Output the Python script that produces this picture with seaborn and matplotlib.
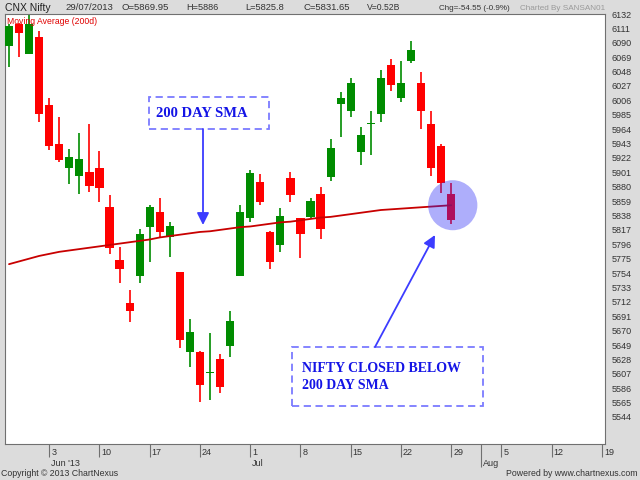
import matplotlib
matplotlib.use("Agg")
import matplotlib.pyplot as plt
import matplotlib.transforms as mtransforms
from matplotlib.patches import Ellipse, Rectangle, FancyArrowPatch
import seaborn as sns
import pandas as pd
import numpy as np

# ---------------- data ----------------
dates = pd.bdate_range("2013-05-28", "2013-07-29")          # trading days shown
axis_days = pd.bdate_range("2013-05-28", "2013-08-19")      # x axis extent

opens = [6086, 6117, 6073, 6099, 5999, 5942, 5907, 5895, 5901, 5908,
         5850, 5773, 5710, 5749, 5821, 5843, 5806, 5755, 5639, 5639,
         5608, 5628, 5647, 5749, 5834, 5887, 5814, 5795, 5892, 5834,
         5836, 5870, 5894, 6000, 5990, 5930, 5971, 5986, 6058, 6010,
         6064, 6032, 5971, 5939, 5869.95]
highs = [6118, 6119, 6130, 6107, 6010, 5981, 5935, 5958, 5972, 5932,
         5868, 5792, 5729, 5819, 5854, 5863, 5828, 5755, 5687, 5640,
         5666, 5636, 5699, 5853, 5904, 5898, 5815, 5849, 5901, 5834,
         5864, 5879, 5949, 6018, 6038, 5967, 5990, 6051, 6067, 6063,
         6093, 6047, 5990, 5943, 5886]
lows = [6054, 6069, 6073, 5975, 5933, 5916, 5884, 5869, 5872, 5857,
        5782, 5739, 5682, 5739, 5770, 5806, 5777, 5645, 5617, 5566,
        5569, 5579, 5631, 5749, 5828, 5853, 5760, 5785, 5857, 5776,
        5834, 5803, 5888, 5952, 5981, 5911, 5927, 5974, 6019, 6003,
        6060, 5964, 5895, 5871, 5825.8]
closes = [6115, 6104, 6117, 5986, 5939, 5919, 5924, 5921, 5881, 5878,
          5790, 5760, 5698, 5811, 5850, 5814, 5822, 5656, 5668, 5591,
          5610, 5588, 5684, 5843, 5900, 5857, 5770, 5837, 5868, 5811,
          5859, 5818, 5936, 6010, 6031, 5955, 5973, 6038, 6029, 6032,
          6079, 5990, 5908, 5886, 5831.65]
ma200 = [5767, 5771, 5775, 5779, 5782, 5785, 5787, 5789, 5791, 5793,
         5795, 5797, 5799, 5801, 5803, 5806, 5808, 5810, 5812, 5814,
         5815, 5817, 5819, 5821, 5822, 5824, 5826, 5828, 5829, 5831,
         5833, 5835, 5836, 5838, 5840, 5842, 5844, 5846, 5847, 5848,
         5849, 5850, 5851, 5852, 5853]

y_tick_values = [5544, 5565, 5586, 5607, 5628, 5649, 5670, 5691, 5712, 5733,
                 5754, 5775, 5796, 5817, 5838, 5859, 5880, 5901, 5922, 5943,
                 5964, 5985, 6006, 6027, 6048, 6069, 6090, 6111, 6132]
month_labels = ["Jun '13", "Jul", "Aug"]

header_items = [("29/07/2013", 65, 6.8), ("O=5869.95", 121, 6.8), ("H=5886", 186, 6.6),
                ("L=5825.8", 245, 6.7), ("C=5831.65", 304, 6.8), ("V=0.52B", 367, 6.2),
                ("Chg=-54.55 (-0.9%)", 439, 5.8)]

# ---------------- style ----------------
sns.set_style("white")
plt.rcParams["font.family"] = ["Liberation Sans", "DejaVu Sans"]

W, H = 640, 480
def fx(x):
    return x / W
def fy(y):
    return 1 - y / H

fig = plt.figure(figsize=(6.4, 4.8), dpi=100, facecolor="#dcdcdc")
ax = fig.add_axes([fx(5), fy(444), fx(605) - fx(5), fy(14) - fy(444)])
ax.set_facecolor("white")

df = pd.DataFrame({"i": np.arange(len(dates)), "open": opens, "high": highs,
                   "low": lows, "close": closes, "ma": ma200})
up = df["close"] >= df["open"]
colors = np.where(up, "#008c00", "#ff0000")

# wicks
ax.vlines(df["i"], df["low"], df["high"], colors=colors, lw=1.2, zorder=2)
# bodies
body_bottom = np.minimum(df["open"], df["close"])
body_h = np.maximum((df["close"] - df["open"]).abs(), 1.6)
ax.bar(df["i"], body_h, bottom=body_bottom, width=0.82, color=colors,
       linewidth=0, zorder=3)

# moving average
sns.lineplot(data=df, x="i", y="ma", ax=ax, color="#c80000", lw=1.3, zorder=4)

# highlight circle on last candle
ax.add_patch(Ellipse((df["i"].iloc[-1] + 0.15, df["ma"].iloc[-1]), width=4.9, height=73,
                     facecolor=(42 / 255, 42 / 255, 245 / 255, 0.38),
                     edgecolor="none", zorder=6))

# axes limits
ax.set_xlim(-0.4, 59.3)
ax.set_ylim(5504.6, 6132)
ax.set_xlabel("")
ax.set_ylabel("")

# y axis on right
ax.yaxis.tick_right()
ax.set_yticks(y_tick_values)
ax.set_yticklabels([str(v) for v in y_tick_values])
ax.tick_params(axis="y", length=0, pad=5, labelsize=6.5, labelcolor="#333333")

# x axis ticks (weeks and months)
day_index = pd.Series(np.arange(len(axis_days)), index=axis_days)
mondays = day_index[axis_days.dayofweek == 0]
week_pos = list(mondays.values)
week_lab = [str(d.day) for d in mondays.index]
first_of_month = day_index.groupby(axis_days.month).min()
month_pos = [int(p) for p in first_of_month.values if axis_days[int(p)].day <= 7 and axis_days[int(p)].month > 5]

ax.set_xticks(week_pos)
ax.set_xticklabels([])
ax.set_xticks(month_pos, minor=True)
ax.tick_params(axis="x", which="major", direction="out", length=9.4, width=0.8,
               color="#707070", bottom=True)
ax.tick_params(axis="x", which="minor", direction="out", length=16.6, width=0.8,
               color="#707070", bottom=True)
bt = mtransforms.blended_transform_factory(ax.transData, fig.transFigure)
for p, lab in zip(week_pos, week_lab):
    ax.text(p + 0.2, fy(452.5), lab, transform=bt, ha="left", va="center",
            fontsize=6.5, color="#333333", clip_on=False)
for p, lab in zip(month_pos, month_labels):
    ax.text(p + 0.2, fy(463), lab, transform=bt, ha="left", va="center",
            fontsize=6.5, color="#333333", clip_on=False)

for s in ax.spines.values():
    s.set_color("#707070")
    s.set_linewidth(0.8)

# header
fig.text(fx(5), fy(8), "CNX Nifty", fontsize=7.5, color="#202020", ha="left", va="center")
for txt, xp, fs in header_items:
    fig.text(fx(xp), fy(8), txt, fontsize=fs, color="#333333", ha="left", va="center")
fig.text(fx(520), fy(8), "Charted By SANSAN01", fontsize=5.9, color="#9a9a9a",
         ha="left", va="center")
fig.text(fx(7), fy(21), "Moving Average (200d)", fontsize=6.2, color="#e00000",
         ha="left", va="center")

# footer
fig.text(fx(1), fy(474), "Copyright \u00a9 2013 ChartNexus", fontsize=6.3,
         color="#333333", ha="left", va="center")
fig.text(fx(638), fy(474), "Powered by www.chartnexus.com", fontsize=6.3,
         color="#333333", ha="right", va="center")

# annotations
box_kw = dict(transform=fig.transFigure, facecolor="white", edgecolor="#7b7bff",
              linestyle=(0, (4, 2.5)), linewidth=1.3, zorder=7)
fig.add_artist(Rectangle((fx(149), fy(129)), fx(269) - fx(149), fy(97) - fy(129), **box_kw))
fig.text(fx(156), fy(113.5), "200 DAY SMA", fontsize=10.5, fontweight="bold",
         family=["Liberation Serif", "DejaVu Serif"], color="#1414e6",
         ha="left", va="center", zorder=8)
fig.add_artist(Rectangle((fx(292), fy(406)), fx(483) - fx(292), fy(347) - fy(406), **box_kw))
fig.text(fx(302), fy(377), "NIFTY CLOSED BELOW\n200 DAY SMA", fontsize=10,
         fontweight="bold", family=["Liberation Serif", "DejaVu Serif"],
         color="#1414e6", ha="left", va="center", linespacing=1.35, zorder=8)

arrow_kw = dict(transform=fig.transFigure, arrowstyle="-|>,head_length=0.6,head_width=0.3",
                mutation_scale=12, color="#3c3cff", lw=1.3, shrinkA=0, shrinkB=0, zorder=8)
fig.add_artist(FancyArrowPatch((fx(203), fy(129)), (fx(203), fy(225)), **arrow_kw))
fig.add_artist(FancyArrowPatch((fx(375), fy(347)), (fx(435), fy(235)), **arrow_kw))

fig.savefig("out.png", dpi=100, facecolor=fig.get_facecolor())
